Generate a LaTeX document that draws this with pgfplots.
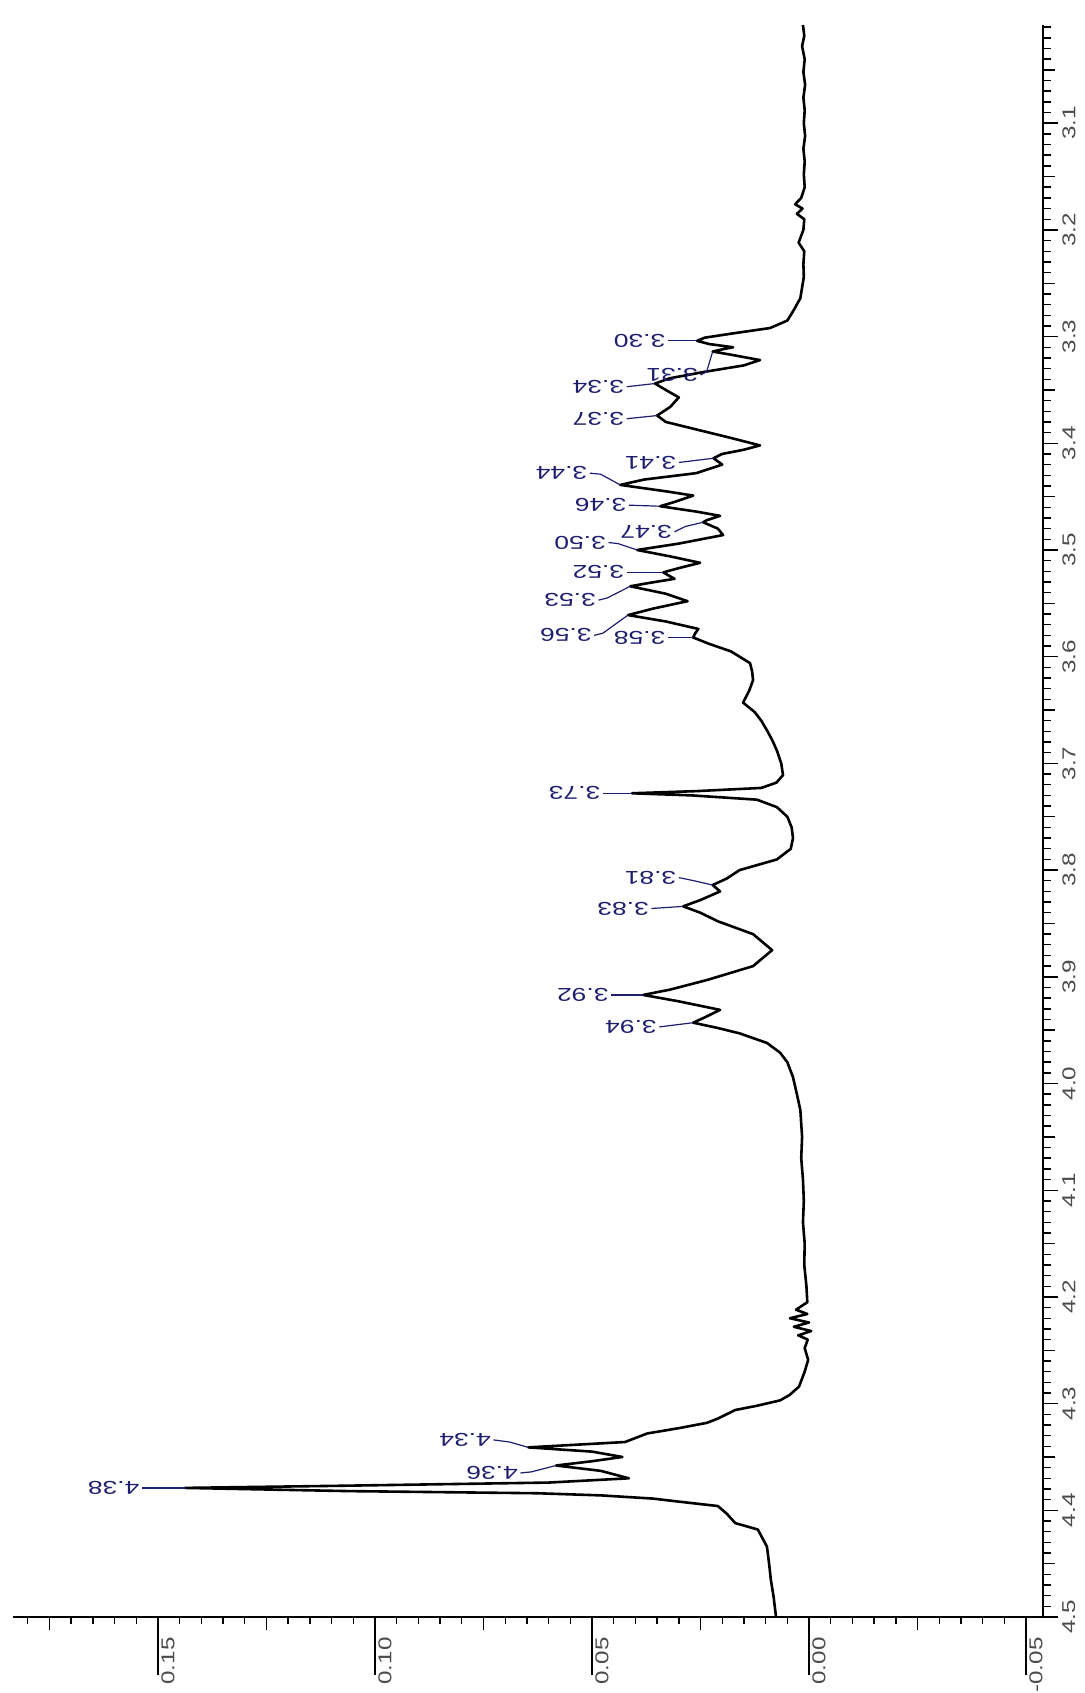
\documentclass[border=0pt]{standalone}
\usepackage{fontspec}
\setmainfont{Liberation Sans}
\usepackage{pgfplots}
\pgfplotsset{compat=1.18}

\definecolor{peaklab}{RGB}{30,30,110}
\definecolor{ticklab}{RGB}{75,75,75}
\newcommand{\tfont}{\fontsize{9.3}{10}\selectfont}
\newcommand{\wide}[1]{\scalebox{1.42}[1]{#1}}
\newcommand{\tw}[1]{\scalebox{1.3}[1]{#1}}

% common frame of every layer: intensity runs leftwards, shift runs downwards
\pgfplotsset{
  frame/.style={
    at={(0pt,0pt)}, anchor=south west,
    scale only axis, width=515pt, height=796pt,
    x dir=reverse, y dir=reverse,
    xmin=-0.0539, xmax=0.1834, ymin=3.008, ymax=4.5,
    tick align=outside,
    axis line style={line width=1pt,-},
    every tick/.style={line width=0.7pt,black},
  },
}
\tikzset{
  peak/.style={draw=peaklab, line width=0.6pt},
  plab/.style={anchor=west, rotate=180, inner sep=1pt, text=peaklab, font=\tfont},
}
\newcommand{\pk}[5]{\draw[peak] (axis cs:#1,#2) -- (axis cs:#3,#4) node[plab] {\wide{#5}};}
\newcommand{\pkk}[7]{\draw[peak] (axis cs:#1,#2) -- (axis cs:#3,#4) -- (axis cs:#5,#6) node[plab] {\wide{#7}};}

\begin{document}
\begin{tikzpicture}
\useasboundingbox (-6.5pt,-38pt) rectangle (536pt,808.5pt);

% intensity axis: long major ticks with labels, short minor ticks
\begin{axis}[frame,
  axis x line*=bottom, axis y line=none,
  xtick={-0.1,-0.05,0,0.05,0.1,0.15,0.2},
  xticklabels={,\tw{-0.05},\tw{0.00},\tw{0.05},\tw{0.10},\tw{0.15},},
  minor x tick num=9,
  major tick length=29pt, minor tick length=3.5pt,
  xticklabel style={font=\tfont, text=ticklab, inner sep=0pt,
    xshift=1.5pt, yshift=19pt, rotate=90, anchor=north east},
]
\end{axis}
% intensity axis: medium ticks
\begin{axis}[frame,
  axis x line*=bottom, axis y line=none,
  xtick={-0.025,0.025,0.075,0.125,0.175},
  xticklabels={},
  major tick length=6.5pt,
]
\end{axis}
% shift axis: medium ticks
\begin{axis}[frame,
  axis x line=none, axis y line*=right,
  ytick={3.05,3.15,3.25,3.35,3.45,3.55,3.65,3.75,3.85,3.95,4.05,4.15,4.25,4.35,4.45},
  yticklabels={},
  major tick length=6pt,
]
\end{axis}

% shift axis with labels, the spectrum and the peak annotations
\begin{axis}[frame,
  axis x line=none, axis y line*=right,
  ytick={3.0,3.1,3.2,3.3,3.4,3.5,3.6,3.7,3.8,3.9,4.0,4.1,4.2,4.3,4.4,4.5},
  yticklabels={,\tw{3.1},\tw{3.2},\tw{3.3},\tw{3.4},\tw{3.5},\tw{3.6},\tw{3.7},
    \tw{3.8},\tw{3.9},\tw{4.0},\tw{4.1},\tw{4.2},\tw{4.3},\tw{4.4},\tw{4.5}},
  minor y tick num=9,
  major tick length=7.5pt, minor tick length=4pt,
  yticklabel style={font=\tfont, text=ticklab, inner sep=0pt,
    xshift=2pt, rotate=90, anchor=north},
  clip=false,
]
\addplot[black, line width=1.3pt, line join=round] coordinates {
(0.0014,3.008)(0.0011,3.018)(0.0016,3.028)(0.0010,3.040)(0.0013,3.052)(0.0009,3.064)
(0.0013,3.076)(0.0010,3.088)(0.0012,3.100)(0.0009,3.112)(0.0013,3.124)(0.0010,3.136)
(0.0012,3.148)(0.0010,3.160)(0.0018,3.170)(0.0032,3.176)(0.0015,3.180)(0.0028,3.185)
(0.0011,3.190)(0.0013,3.200)(0.0024,3.212)(0.0011,3.220)(0.0013,3.232)(0.0012,3.244)
(0.0016,3.254)(0.0020,3.264)(0.0035,3.275)(0.0050,3.285)(0.0090,3.292)(0.0175,3.297)
(0.0240,3.301)(0.0258,3.304)(0.0230,3.307)(0.0175,3.310)(0.0200,3.312)(0.0222,3.314)
(0.0180,3.317)(0.0113,3.322)(0.0150,3.327)(0.0240,3.333)(0.0320,3.339)(0.0355,3.344)
(0.0330,3.350)(0.0300,3.357)(0.0320,3.366)(0.0350,3.374)(0.0330,3.380)(0.0250,3.388)
(0.0180,3.395)(0.0113,3.402)(0.0150,3.406)(0.0200,3.410)(0.0220,3.414)(0.0200,3.420)
(0.0260,3.428)(0.0380,3.434)(0.0435,3.439)(0.0330,3.445)(0.0267,3.449)(0.0310,3.455)
(0.0343,3.459)(0.0260,3.464)(0.0205,3.468)(0.0235,3.472)(0.0244,3.474)(0.0210,3.480)
(0.0198,3.486)(0.0300,3.494)(0.0396,3.500)(0.0320,3.506)(0.0251,3.512)(0.0300,3.517)
(0.0336,3.521)(0.0310,3.527)(0.0370,3.531)(0.0412,3.534)(0.0330,3.541)(0.0280,3.548)
(0.0360,3.555)(0.0417,3.561)(0.0330,3.567)(0.0255,3.574)(0.0262,3.578)(0.0267,3.582)
(0.0230,3.588)(0.0180,3.595)(0.0136,3.606)(0.0131,3.614)(0.0129,3.622)(0.0138,3.632)
(0.0152,3.643)(0.0125,3.652)(0.0110,3.660)(0.0097,3.669)(0.0085,3.678)(0.0074,3.688)
(0.0064,3.700)(0.0060,3.711)(0.0075,3.718)(0.0110,3.723)(0.0260,3.726)(0.0408,3.728)
(0.0270,3.730)(0.0120,3.734)(0.0074,3.741)(0.0050,3.750)(0.0040,3.760)(0.0037,3.770)
(0.0042,3.780)(0.0074,3.790)(0.0160,3.800)(0.0190,3.808)(0.0222,3.814)(0.0205,3.820)
(0.0250,3.828)(0.0290,3.834)(0.0250,3.840)(0.0210,3.848)(0.0129,3.860)(0.0085,3.875)
(0.0129,3.890)(0.0235,3.903)(0.0320,3.912)(0.0382,3.917)(0.0300,3.923)(0.0205,3.931)
(0.0240,3.938)(0.0267,3.943)(0.0210,3.948)(0.0160,3.953)(0.0097,3.962)(0.0067,3.971)
(0.0050,3.980)(0.0037,3.994)(0.0028,4.010)(0.0020,4.025)(0.0016,4.050)(0.0018,4.070)
(0.0014,4.090)(0.0012,4.110)(0.0014,4.130)(0.0010,4.150)(0.0011,4.170)(0.0006,4.190)
(0.0004,4.205)(0.0030,4.212)(0.0004,4.216)(0.0044,4.220)(0.0000,4.224)(0.0035,4.228)
(-0.0005,4.232)(0.0025,4.236)(0.0003,4.240)(0.0010,4.248)(0.0002,4.259)(0.0010,4.270)
(0.0023,4.284)(0.0045,4.292)(0.0067,4.297)(0.0120,4.302)(0.0170,4.306)(0.0210,4.314)
(0.0235,4.318)(0.0300,4.323)(0.0373,4.328)(0.0424,4.336)(0.0647,4.341)(0.0500,4.345)
(0.0430,4.350)(0.0500,4.354)(0.0583,4.358)(0.0480,4.363)(0.0415,4.370)(0.0600,4.374)
(0.1080,4.377)(0.1438,4.379)(0.1060,4.382)(0.0627,4.384)(0.0480,4.386)(0.0360,4.389)
(0.0297,4.392)(0.0210,4.396)(0.0190,4.403)(0.0170,4.412)(0.0118,4.418)(0.0097,4.434)
(0.0092,4.450)(0.0088,4.465)(0.0082,4.480)(0.0076,4.500)
};

% peak picking labels
\pk{0.0258}{3.304}{0.0325}{3.304}{3.30}
\pkk{0.0222}{3.314}{0.0236}{3.333}{0.0250}{3.336}{3.31}
\pk{0.0355}{3.344}{0.0420}{3.347}{3.34}
\pk{0.0350}{3.374}{0.0420}{3.377}{3.37}
\pk{0.0220}{3.414}{0.0300}{3.418}{3.41}
\pkk{0.0435}{3.439}{0.0480}{3.429}{0.0505}{3.428}{3.44}
\pk{0.0343}{3.459}{0.0415}{3.458}{3.46}
\pkk{0.0244}{3.474}{0.0285}{3.478}{0.0310}{3.483}{3.47}
\pkk{0.0396}{3.500}{0.0440}{3.494}{0.0462}{3.493}{3.50}
\pk{0.0336}{3.521}{0.0420}{3.521}{3.52}
\pkk{0.0412}{3.534}{0.0465}{3.545}{0.0485}{3.547}{3.53}
\pkk{0.0417}{3.561}{0.0475}{3.578}{0.0495}{3.580}{3.56}
\pk{0.0267}{3.582}{0.0325}{3.582}{3.58}
\pk{0.0408}{3.728}{0.0475}{3.728}{3.73}
\pkk{0.0222}{3.814}{0.0265}{3.810}{0.0300}{3.807}{3.81}
\pk{0.0290}{3.834}{0.0363}{3.836}{3.83}
\pk{0.0382}{3.917}{0.0456}{3.917}{3.92}
\pk{0.0267}{3.943}{0.0345}{3.947}{3.94}
\pkk{0.0647}{4.341}{0.0690}{4.336}{0.0727}{4.334}{4.34}
\pkk{0.0583}{4.358}{0.0640}{4.364}{0.0665}{4.365}{4.36}
\pk{0.1438}{4.379}{0.1537}{4.379}{4.38}
\end{axis}
\end{tikzpicture}
\end{document}
